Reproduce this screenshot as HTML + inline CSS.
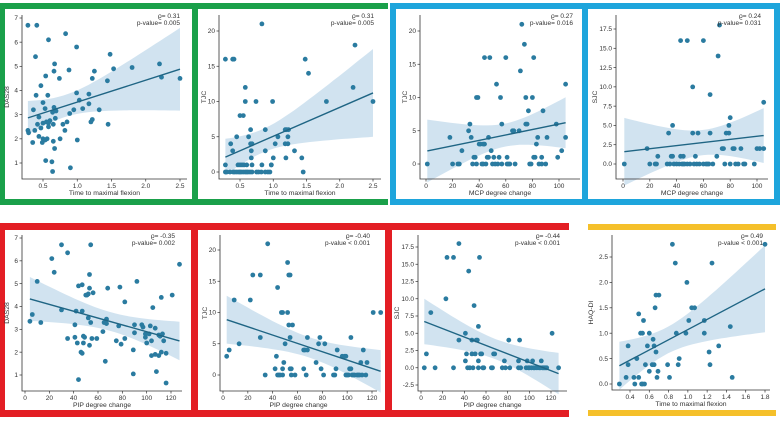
<!DOCTYPE html>
<html><head><meta charset="utf-8"><style>
html,body{margin:0;padding:0;background:#fff}
svg{display:block;font-family:"Liberation Sans",sans-serif}
</style></head><body>
<svg id="fig" width="780" height="423" viewBox="0 0 780 423">
<g id="frames">
<rect x="0" y="3" width="388" height="6" fill="#1aa04a"/>
<rect x="0" y="199" width="388" height="6" fill="#1aa04a"/>
<rect x="0" y="3" width="5" height="202" fill="#1aa04a"/>
<rect x="192" y="3" width="6" height="202" fill="#1aa04a"/>
<rect x="390" y="3" width="390" height="6" fill="#1ea5dc"/>
<rect x="390" y="199" width="390" height="6" fill="#1ea5dc"/>
<rect x="390" y="3" width="6" height="202" fill="#1ea5dc"/>
<rect x="582" y="3" width="6" height="202" fill="#1ea5dc"/>
<rect x="774" y="3" width="6" height="202" fill="#1ea5dc"/>
<rect x="0" y="223" width="569" height="7" fill="#e31e24"/>
<rect x="0" y="410" width="569" height="7" fill="#e31e24"/>
<rect x="0" y="223" width="5" height="194" fill="#e31e24"/>
<rect x="191" y="223" width="7" height="194" fill="#e31e24"/>
<rect x="385" y="223" width="7" height="194" fill="#e31e24"/>
<rect x="588" y="224" width="188" height="6" fill="#f5c02a"/>
<rect x="588" y="410" width="188" height="6" fill="#f5c02a"/>
</g>
</svg>
<script>
// ---- data (x values, y values per panel) ----
const p1x=[0.28,0.41,0.39,0.58,0.83,0.99,0.67,0.66,0.88,0.54,0.47,0.74,0.4,0.57,0.36,0.5,0.53,0.66,0.69,0.64,0.44,0.42,0.5,0.47,0.55,0.58,0.6,0.65,0.68,0.79,0.85,0.82,0.95,0.89,0.99,1.03,1.08,1.17,1.17,1.22,1.25,1.2,1.22,1.32,1.44,1.48,1.53,1.8,2.2,2.23,2.5,1.45,0.28,0.29,0.35,0.44,0.5,0.49,0.53,0.56,0.54,0.63,0.64,0.67,0.65,0.75,0.9,1.0,0.38,0.58];
const p1y=[6.7,6.7,5.4,6.1,6.35,5.8,5.1,4.8,4.85,4.6,4.2,4.5,3.8,3.8,3.2,3.5,3.25,3.3,3.15,3.1,2.9,2.6,2.65,2.45,2.7,2.5,2.75,2.6,2.85,2.6,2.7,2.35,3.2,3.05,3.9,3.6,3.25,3.85,3.45,4.5,4.8,2.7,2.8,3.2,4.4,5.5,4.9,4.95,5.1,4.55,4.5,2.6,2.35,2.25,1.85,2.1,2.0,1.85,1.95,2.0,1.1,1.05,0.65,1.6,1.9,2.0,0.8,1.95,2.35,2.65];
const p2x=[0.28,0.39,0.41,0.83,0.28,0.28,0.36,0.39,0.45,0.5,0.55,0.58,0.58,0.74,0.99,0.63,0.66,0.66,0.68,0.67,0.67,0.88,0.88,1.03,1.07,1.0,0.97,1.18,1.2,1.23,1.22,1.18,1.22,1.19,1.32,1.48,1.53,1.43,1.45,1.8,2.2,2.23,2.5,0.3,0.35,0.4,0.42,0.45,0.48,0.5,0.52,0.55,0.58,0.6,0.62,0.65,0.68,0.75,0.78,0.82,0.88,0.92,0.95,0.47,0.5,0.53,0.56,0.6,0.68,0.83,0.97];
const p2y=[16,16,16,21,1,0,4,3,5,8,8,12,10,10,10,5,6,4,4,3,2,6,3,4,5,2,1,6,6,6,5,4,4,2,3,16,14,2,0,10,12,18,10,0,0,0,0,0,0,0,0,0,0,0,0,0,0,0,0,0,0,0,0,1,1,1,1,1,1,1,1];
const p3x=[1,18,20,24,25,27,32,33,34,35,36,37,38,39,40,41,42,43,44,44,45,46,47,47,48,49,50,51,52,53,54,55,56,57,60,61,62,63,65,66,67,70,71,72,74,75,75,76,77,78,79,80,81,81,82,83,84,85,87,87,88,90,91,98,99,102,105,105,38,43,57,61];
const p3y=[0,4,0,0,0,2,5,6,4,0,1,1,10,10,3,3,0,3,3,16,0,1,1,4,16,2,0,1,0,12,0,1,10,6,16,1,0,0,5,5,0,5,14,21,18,10,6,6,8,0,0,10,16,1,1,3,4,0,1,0,8,0,4,6,1,2,12,4,0,0,0,0];
const p4x=[1,18,20,24,25,26,33,34,35,36,37,37,38,40,42,43,43,44,45,46,48,48,50,52,52,53,54,56,57,60,60,62,63,65,65,67,70,71,72,74,75,76,77,79,79,80,80,82,83,84,86,88,90,91,98,100,102,105,105,45,55,64];
const p4y=[0,2,0,0,0,1,0,4,0,1,1,5,0,0,0,16,1,0,1,0,16,0,0,4,10,0,1,4,0,16,0,0,0,9,4,0,1,14,18,2,2,0,4,4,5,6,0,2,2,0,0,2,0,0,0,2,2,8,2,0,0,0];
const p5x=[4,6,10,13,22,24,30,30,35,35,41,41,42,43,44,44,46,47,47,47,48,48,49,50,51,52,52,53,53,54,54,55,56,53,59,64,65,66,67,67,68,75,77,78,79,82,82,89,89,90,92,96,97,99,99,100,102,103,104,104,105,107,107,108,110,110,111,112,112,113,114,116,116,121,127,90];
const p5y=[3.35,3.65,5.1,3.3,6.1,5.5,6.7,3.85,6.35,2.6,3.2,2.65,3.8,2.4,4.9,0.8,2.0,4.95,3.8,1.95,2.4,2.7,2.65,4.5,4.5,4.55,3.5,5.4,4.8,6.7,3.3,2.6,4.6,2.3,2.6,2.9,3.3,1.6,3.25,3.45,4.8,2.5,3.15,4.85,2.35,4.2,2.6,1.05,2.1,3.2,5.1,3.2,3.1,2.8,2.65,2.4,2.8,3.15,2.5,1.85,3.95,3.05,1.9,1.15,2.75,1.85,2.7,4.4,2.0,2.8,2.5,0.65,1.95,4.5,5.85,2.85];
const p6x=[3,5,9,13,22,24,30,30,34,36,42,43,44,44,45,46,47,48,48,48,49,50,52,52,53,53,54,54,54,55,55,56,58,65,65,66,67,68,68,75,77,78,79,81,82,89,90,91,92,96,98,99,100,101,102,103,103,104,105,106,108,109,110,111,112,113,115,116,121,127,99];
const p6y=[3,4,12,5,12,16,16,6,0,21,1,3,14,0,0,0,10,10,1,0,2,5,10,18,8,16,16,6,1,1,0,8,0,1,4,4,0,4,6,2,5,6,1,0,5,0,0,1,4,3,3,0,0,0,1,6,1,0,0,0,0,0,0,2,0,4,0,2,10,10,3];
const p7x=[3,5,9,13,23,24,30,30,35,35,41,41,42,43,44,45,47,47,48,49,50,51,52,53,53,53,54,55,56,57,58,65,66,67,68,75,77,78,81,82,90,90,91,92,97,98,99,100,102,103,104,105,107,109,110,111,112,113,114,115,116,121,127];
const p7y=[0,2,8,0,10,16,16,0,18,4,5,1,2,0,14,0,4,2,0,9,2,4,4,0,6,1,16,2,2,0,0,0,0,2,2,0,1,0,4,0,1,0,4,0,0,1,0,0,0,1,0,0,0,0,0,1,0,0,0,0,0,5,0];
const p8x=[0.29,0.36,0.38,0.38,0.44,0.45,0.47,0.49,0.49,0.51,0.52,0.53,0.53,0.54,0.55,0.56,0.58,0.6,0.6,0.63,0.64,0.65,0.65,0.66,0.67,0.67,0.68,0.69,0.7,0.79,0.81,0.84,0.87,0.88,0.9,0.91,0.98,0.99,1.01,1.04,1.07,1.17,1.17,1.22,1.23,1.25,1.32,1.44,1.46,1.8];
const p8y=[0,0.13,0.75,0.38,0.13,0,0.5,1.38,0.13,1.0,0,1.0,0,1.25,0,0.38,0.75,1.0,0.25,0.38,0.88,0.75,0.38,1.5,1.75,0.63,0.13,0.25,1.75,0.38,0.13,2.75,2.38,1.0,0.38,0.5,1.0,2.0,1.25,1.5,1.5,1.0,1.25,0.63,0.38,2.38,0.75,1.13,0.13,2.75];
// tick labels
const tTime=[0.5,1.0,1.5,2.0,2.5];
const tMCP=[0,20,40,60,80,100];
const tPIP=[0,20,40,60,80,100,120];
const tTime8=[0.4,0.6,0.8,1.0,1.2,1.4,1.6,1.8];
const tDAS=[1,2,3,4,5,6,7];
const tTJC=[0,5,10,15,20];
const tSJC=[0,2.5,5,7.5,10,12.5,15,17.5];
const tSJC7=[-2.5,0,2.5,5,7.5,10,12.5,15,17.5];
const tHAQ=[0,0.5,1.0,1.5,2.0,2.5];
const stats=[["ϱ= 0.31","p-value= 0.005"],["ϱ= 0.31","p-value= 0.005"],["ϱ= 0.27","p-value= 0.016"],["ϱ= 0.24","p-value= 0.031"],["ϱ= -0.35","p-value= 0.002"],["ϱ= -0.40","p-value < 0.001"],["ϱ= -0.44","p-value < 0.001"],["ϱ= 0.49","p-value < 0.001"]];

const NS="http://www.w3.org/2000/svg";
const svg=document.getElementById('fig');
function mk(tag,attrs,parent){const e=document.createElementNS(NS,tag);for(const k in attrs)e.setAttribute(k,attrs[k]);parent.appendChild(e);return e;}
function fmt(v,dec){return v.toFixed(dec);}

const panels=[
 {xs:p1x,ys:p1y,L:22,R:187,T:15,B:179,xa:[0.5,43,2.5,180],ya:[1,163,7,18],xt:tTime,yt:tDAS,xd:1,yd:0,xl:"Time to maximal flexion",yl:"DAS28"},
 {xs:p2x,ys:p2y,L:219,R:381,T:15,B:179,xa:[0.5,240,2.5,373],ya:[0,172,20,31],xt:tTime,yt:tTJC,xd:1,yd:0,xl:"Time to maximal flexion",yl:"TJC"},
 {xs:p3x,ys:p3y,L:420,R:580,T:15,B:179,xa:[0,426,100,559],ya:[0,164,20,31],xt:tMCP,yt:tTJC,xd:0,yd:0,xl:"MCP degree change",yl:"TJC"},
 {xs:p4x,ys:p4y,L:616,R:768,T:15,B:179,xa:[0,623,100,757],ya:[0,164,17.5,29],xt:tMCP,yt:tSJC,xd:0,yd:1,xl:"MCP degree change",yl:"SJC"},
 {xs:p5x,ys:p5y,L:22,R:182,T:235,B:391,xa:[0,25,120,171],ya:[1,375,7,238],xt:tPIP,yt:tDAS,xd:0,yd:0,xl:"PIP degree change",yl:"DAS28"},
 {xs:p6x,ys:p6y,L:220,R:377,T:235,B:391,xa:[0,223,120,372],ya:[0,375,20,250],xt:tPIP,yt:tTJC,xd:0,yd:0,xl:"PIP degree change",yl:"TJC"},
 {xs:p7x,ys:p7y,L:418,R:567,T:235,B:391,xa:[0,421,120,551],ya:[-2.5,385,17.5,247],xt:tPIP,yt:tSJC7,xd:0,yd:1,xl:"PIP degree change",yl:"SJC"},
 {xs:p8x,ys:p8y,L:612,R:770,T:235,B:390,xa:[0.4,630,1.8,765],ya:[0,384,2.5,257],xt:tTime8,yt:tHAQ,xd:1,yd:1,xl:"Time to maximal flexion",yl:"HAQ-DI"}
];

panels.forEach((p,i)=>{
 const g=mk('g',{},svg);
 
 
 const X=v=>p.xa[1]+(v-p.xa[0])*(p.xa[3]-p.xa[1])/(p.xa[2]-p.xa[0]);
 const Y=v=>p.ya[1]+(v-p.ya[0])*(p.ya[3]-p.ya[1])/(p.ya[2]-p.ya[0]);
 const n=p.xs.length;let mx=0,my=0;for(let k=0;k<n;k++){mx+=p.xs[k];my+=p.ys[k];}mx/=n;my/=n;
 let sxx=0,sxy=0;for(let k=0;k<n;k++){sxx+=(p.xs[k]-mx)**2;sxy+=(p.xs[k]-mx)*(p.ys[k]-my);}
 const b=sxy/sxx,a=my-b*mx;let sse=0;for(let k=0;k<n;k++)sse+=(p.ys[k]-a-b*p.xs[k])**2;
 const s=Math.sqrt(sse/(n-2));
 const x0=Math.min(...p.xs),x1=Math.max(...p.xs);
 let up=[],lo=[];
 for(let k=0;k<=30;k++){const xv=x0+(x1-x0)*k/30;const se=s*Math.sqrt(1/n+(xv-mx)**2/sxx)*2.8;const yv=a+b*xv;
  up.push(X(xv).toFixed(1)+','+Y(yv+se).toFixed(1));lo.unshift(X(xv).toFixed(1)+','+Y(yv-se).toFixed(1));}
 const band=mk('polygon',{points:up.concat(lo).join(' '),fill:'#c6dcec','fill-opacity':'0.8'},g);
 
 
 for(let k=0;k<n;k++){
  const c=mk('circle',{cx:X(p.xs[k]).toFixed(1),cy:Y(p.ys[k]).toFixed(1),r:2.4,fill:'#2a7ba0'},g);
  
  
 }
 const ln=mk('line',{x1:X(x0),y1:Y(a+b*x0),x2:X(x1),y2:Y(a+b*x1),stroke:'#1f6584','stroke-width':1.4},g);
 
 
 const ax=mk('path',{d:`M${p.L},${p.T}V${p.B}H${p.R}`,stroke:'#333',fill:'none','stroke-width':0.8},g);
 
 
 p.xt.forEach(v=>{const x=X(v);mk('line',{x1:x,y1:p.B,x2:x,y2:p.B+2.5,stroke:'#333','stroke-width':0.7},g);
  const t=mk('text',{x:x,y:p.B+9,'font-size':6.5,'text-anchor':'middle',fill:'#333'},g);t.textContent=fmt(v,p.xd);
  
  });
 p.yt.forEach(v=>{const y=Y(v);mk('line',{x1:p.L-2.5,y1:y,x2:p.L,y2:y,stroke:'#333','stroke-width':0.7},g);
  const t=mk('text',{x:p.L-4,y:y+2.2,'font-size':6.5,'text-anchor':'end',fill:'#333'},g);t.textContent=fmt(v,p.yd);
  
  });
 const xl=mk('text',{x:(p.L+p.R)/2,y:p.B+16,'font-size':6.8,'text-anchor':'middle',fill:'#333'},g);xl.textContent=p.xl;
 
 
 const yx=p.L-(p.yd?19:13),yy=(p.T+p.B)/2;
 const yl=mk('text',{x:yx,y:yy,'font-size':6.8,'text-anchor':'middle',fill:'#333',transform:`rotate(-90 ${yx} ${yy})`},g);yl.textContent=p.yl;
 
 
 const ar=p.R-7;
 const s1=mk('text',{x:ar,y:p.T+3,'font-size':6.5,'text-anchor':'end',fill:'#333'},g);s1.textContent=stats[i][0];
 
 
 const s2=mk('text',{x:ar,y:p.T+10,'font-size':6.5,'text-anchor':'end',fill:'#333'},g);s2.textContent=stats[i][1];
 
 
});
</script>
</body></html>
